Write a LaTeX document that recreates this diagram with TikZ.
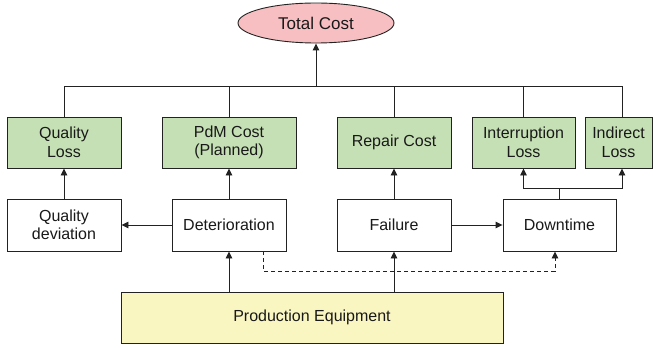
\documentclass[tikz,border=0pt]{standalone}
\usepackage{fontspec}
\setmainfont{Liberation Sans}
\usetikzlibrary{arrows.meta,shapes.geometric}
\definecolor{costgreen}{HTML}{C6E0B5}
\definecolor{totalpink}{HTML}{F8BFC2}
\definecolor{equipyellow}{HTML}{FAF6C1}
\definecolor{linegray}{HTML}{222222}
\tikzset{
  base/.style={draw=linegray, line width=0.9pt, inner sep=0pt, align=center,
    font=\fontsize{16}{18.5}\selectfont, text=black!90},
  costbox/.style={base, fill=costgreen, minimum height=51pt},
  eventbox/.style={base, fill=white, minimum height=52pt},
  conn/.style={draw=linegray, line width=0.9pt},
  arr/.style={conn, -{Triangle[length=7pt,width=6.5pt]}},
}
\begin{document}
\begin{tikzpicture}[x=1pt,y=-1pt]
\useasboundingbox (0,0) rectangle (653,350);
% top
\node[base, ellipse, fill=totalpink, minimum width=156pt, minimum height=40pt,
  font=\fontsize{17}{19}\selectfont] (total) at (316,23) {Total Cost};
% cost boxes
\node[costbox, minimum width=114pt] (ql) at (64,142.5) {Quality\\Loss};
\node[costbox, minimum width=134pt] (pdm) at (229,142.5) {PdM Cost\\(Planned)};
\node[costbox, minimum width=114pt] (rep) at (394,142.5) {Repair Cost};
\node[costbox, minimum width=103pt] (intr) at (523.5,142.5) {Interruption\\Loss};
\node[costbox, minimum width=67pt] (ind) at (618.5,142.5) {Indirect\\Loss};
% events
\node[eventbox, minimum width=114pt] (qd) at (64,225) {Quality\\deviation};
\node[eventbox, minimum width=114pt] (det) at (229,225) {Deterioration};
\node[eventbox, minimum width=114pt] (fail) at (394,225) {Failure};
\node[eventbox, minimum width=113pt] (down) at (559.5,225) {Downtime};
% equipment
\node[base, fill=equipyellow, minimum width=382pt, minimum height=51pt] (pe) at (312,317.5) {Production Equipment};
% coordinates
\coordinate (busL) at (64,86);
\coordinate (busR) at (622,86);
\coordinate (busM) at (316,86);
\coordinate (indc) at ([xshift=3.5pt]ind.north);
\coordinate (indb) at ([xshift=3.5pt]ind.south);
\coordinate (brL) at (523.5,188);
\coordinate (brR) at (622,188);
\coordinate (dA) at (263,271);
\coordinate (dB) at (555,271);
% bus to total
\draw[conn] (ql.north) |- (busR) -- (indc);
\draw[conn] (pdm.north) -- (pdm.north |- busL);
\draw[conn] (rep.north) -- (rep.north |- busL);
\draw[conn] (intr.north) -- (intr.north |- busL);
\draw[arr] (busM) -- (total.south);
% vertical arrows
\draw[arr] (qd.north) -- (ql.south);
\draw[arr] (det.north) -- (pdm.south);
\draw[arr] (fail.north) -- (rep.south);
\draw[arr] (det.west) -- (qd.east);
\draw[arr] (fail.east) -- (down.west);
% downtime bracket
\draw[conn] (down.north) -- (down.north |- brL);
\draw[arr] (brL -| down.north) -- (brL) -- (intr.south);
\draw[arr] (brL -| down.north) -- (brR) -- (indb);
% equipment arrows
\draw[arr] (pe.north -| det.south) -- (det.south);
\draw[arr] (pe.north -| fail.south) -- (fail.south);
% dashed
\draw[arr, dash pattern=on 4pt off 3pt] (det.south -| dA) -- (dA) -- (dB) -- (down.south -| dB);
\end{tikzpicture}
\end{document}
